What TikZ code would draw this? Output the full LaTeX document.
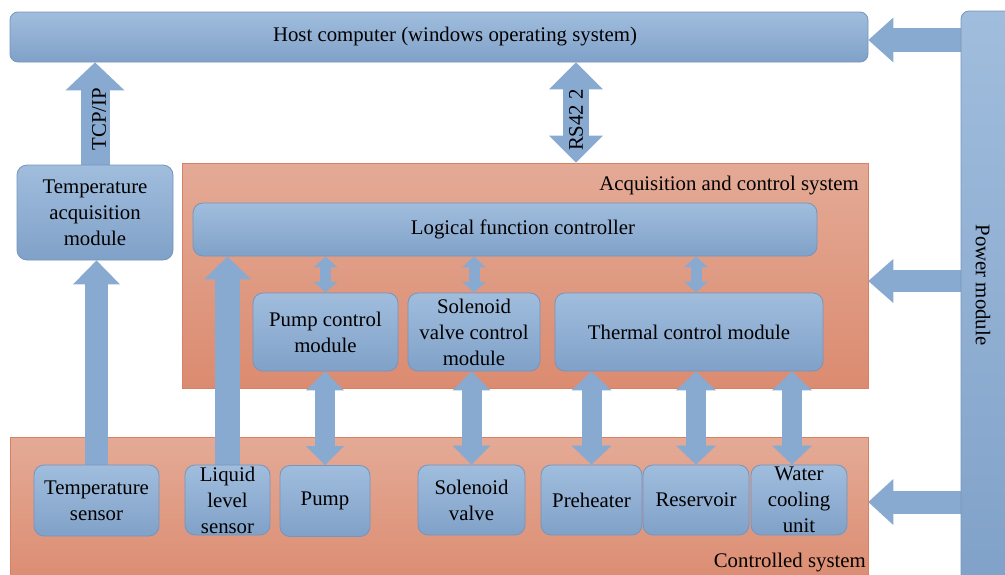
\documentclass[tikz,border=0pt]{standalone}
\usepackage{fontspec}
\setmainfont{Liberation Serif}
\usetikzlibrary{arrows.meta,calc}
\pgfdeclarelayer{back}
\pgfdeclarelayer{mid}
\pgfsetlayers{back,mid,main}

\definecolor{boxtop}{RGB}{160,189,221}
\definecolor{boxbot}{RGB}{128,161,200}
\definecolor{boxline}{RGB}{118,148,188}
\definecolor{flow}{RGB}{137,170,208}
\definecolor{sysTop}{RGB}{228,170,150}
\definecolor{sysBot}{RGB}{219,139,112}
\definecolor{sysLine}{RGB}{214,128,100}

\tikzset{
  every node/.style={font=\fontsize{20.8}{26}\selectfont, text=black},
  bluebox/.style={draw=boxline, line width=0.8pt, rounded corners=10pt,
    top color=boxtop, bottom color=boxbot, align=center, inner sep=0pt},
  sysbox/.style={draw=sysLine, line width=0.6pt, top color=sysTop,
    bottom color=sysBot, inner sep=0pt},
  txt/.style={inner sep=0pt, align=center},
  flowline/.style args={#1/#2/#3}{draw=flow, line width=#1pt,
    -{Triangle[width=#2pt, length=#3pt, line width=0pt]}},
  flowboth/.style args={#1/#2/#3}{draw=flow, line width=#1pt,
    {Triangle[width=#2pt, length=#3pt, line width=0pt]}-{Triangle[width=#2pt, length=#3pt, line width=0pt]}}
}

\begin{document}
\begin{tikzpicture}[x=1pt, y=-1pt]
\useasboundingbox (0,0) rectangle (1005,574);

% system frames
\begin{pgfonlayer}{back}
  \node[sysbox, minimum width=686, minimum height=225] (acs) at (525,275.5) {};
  \node[sysbox, minimum width=858, minimum height=153] (cs) at (439,513.5) {};
\end{pgfonlayer}
\node[txt, anchor=base east] (acslabel) at (859,190) {Acquisition and control system};
\node[txt, anchor=base east] (cslabel) at (866,567) {Controlled system};

% host and power
\node[bluebox, rounded corners=8pt, minimum width=858, minimum height=50] (host) at (439,37) {};
\node[txt] (hosttext) at (455,37) {Host computer (windows operating system)};
\node[bluebox, rounded corners=8pt, minimum width=60, minimum height=580] (power) at (991,301) {};
\node[txt, rotate=-90] (powertext) at (983,285) {Power module};

% acquisition side
\node[bluebox, minimum width=156, minimum height=95] (tam) at (95,212.5) {Temperature\\acquisition\\module};
\node[bluebox, minimum width=624, minimum height=53] (lfc) at (505,229.5) {};
\node[txt] (lfctext) at (523,229) {Logical function controller};
\node[bluebox, minimum width=145, minimum height=78] (pcm) at (325.5,332) {Pump control\\module};
\node[bluebox, minimum width=132, minimum height=78] (svcm) at (474,332) {Solenoid\\valve control\\module};
\node[bluebox, minimum width=268, minimum height=78] (tcm) at (689,332) {Thermal control module};

% controlled devices
\node[bluebox, minimum width=125, minimum height=71] (ts) at (96.5,500.5) {Temperature\\sensor};
\node[bluebox, minimum width=85, minimum height=70] (lls) at (227.5,500) {Liquid\\level\\sensor};
\node[bluebox, minimum width=90, minimum height=71] (pump) at (325,501) {Pump};
\node[bluebox, minimum width=107, minimum height=70] (sv) at (471.5,500) {Solenoid\\valve};
\node[bluebox, minimum width=101, minimum height=70] (pre) at (591.5,500) {Preheater};
\node[bluebox, minimum width=106, minimum height=70] (res) at (696,500) {Reservoir};
\node[bluebox, minimum width=96, minimum height=70] (wcu) at (799,500) {Water\\cooling\\unit};

\coordinate (rsx) at (576,0);
\coordinate (wcx) at (792,0);
\coordinate (p1) at (0,40);
\coordinate (p2) at (0,281);
\coordinate (p3) at (0,502);

% connectors
\begin{pgfonlayer}{mid}
  \draw[flowline=29/59/28] (tam.north) -- (tam.north |- host.south);
  \draw[flowboth=26/54/27] (rsx |- acs.north) -- (rsx |- host.south);
  \draw[flowline=24/45/25] (p1 -| power.west) -- (p1 -| host.east);
  \draw[flowline=22/44/25] (p2 -| power.west) -- (p2 -| acs.east);
  \draw[flowline=23/46/25] (p3 -| power.west) -- (p3 -| cs.east);
  \draw[flowline=23/47/24] (ts.north) -- (ts.north |- tam.south);
  \draw[flowline=25/47/23] (lls.north) -- (lls.north |- lfc.south);
  \draw[flowboth=11/24/11] (pcm.north) -- (pcm.north |- lfc.south);
  \draw[flowboth=11/24/11] (svcm.north) -- (svcm.north |- lfc.south);
  \draw[flowboth=11/24/11] (res.north |- tcm.north) -- (res.north |- lfc.south);
  \draw[flowboth=20/38/19] (pump.north) -- (pump.north |- pcm.south);
  \draw[flowboth=20/38/19] (sv.north) -- (sv.north |- svcm.south);
  \draw[flowboth=20/40/19] (pre.north) -- (pre.north |- tcm.south);
  \draw[flowboth=20/40/19] (res.north) -- (res.north |- tcm.south);
  \draw[flowboth=20/40/19] (wcx |- wcu.north) -- (wcx |- tcm.south);
\end{pgfonlayer}

\node[txt, rotate=90] (tcplabel) at (99,119) {TCP/IP};
\node[txt, rotate=90] (rslabel) at (576,120) {RS42 2};
\end{tikzpicture}
\end{document}
